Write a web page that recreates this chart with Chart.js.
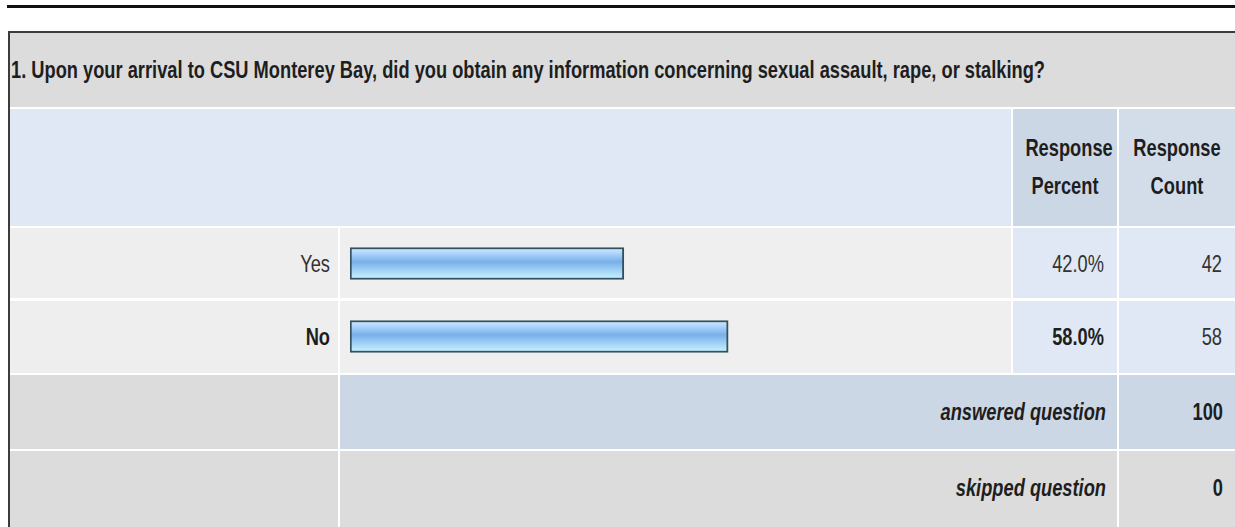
<!DOCTYPE html>
<html>
<head>
<meta charset="utf-8">
<script src="https://cdn.jsdelivr.net/npm/chart.js@4.4.0/dist/chart.umd.min.js"></script>
<style>
  html, body { margin: 0; padding: 0; background: #fff; }
  body { width: 1235px; height: 527px; position: relative; overflow: hidden;
         font-family: 'Liberation Sans', Arial, sans-serif; color: #1e1e1e; }
  .box { position: absolute; box-sizing: border-box; }
  .txt { position: absolute; font-size: 24px; white-space: nowrap; line-height: 1; }
  .r { text-align: right; }
  .c { text-align: center; }
  .b { font-weight: bold; }
  .i { font-style: italic; font-weight: bold; }
  .n { color: #333; }
</style>
</head>
<body>
<div class="box" style="left:7px;top:5px;width:1228px;height:3px;background:#111;"></div>
<div class="box" style="left:8px;top:31px;width:1227px;height:2px;background:#3c3c3c;"></div>
<div class="box" style="left:8px;top:31px;width:2px;height:496px;background:#3c3c3c;"></div>

<!-- title row -->
<div class="box" style="left:10px;top:33px;width:1225px;height:74px;background:#dcdcdc;"></div>
<!-- header row -->
<div class="box" style="left:10px;top:109px;width:1001px;height:117px;background:#dfe8f4;"></div>
<div class="box" style="left:1013px;top:109px;width:104px;height:117px;background:#ccd7e5;"></div>
<div class="box" style="left:1119px;top:109px;width:116px;height:117px;background:#d3dde9;"></div>
<!-- data rows -->
<div class="box" style="left:10px;top:228px;width:328px;height:70px;background:#eeeeee;"></div>
<div class="box" style="left:340px;top:228px;width:671px;height:70px;background:#efefef;"></div>
<div class="box" style="left:1013px;top:228px;width:104px;height:70px;background:#dfe8f4;"></div>
<div class="box" style="left:1119px;top:228px;width:116px;height:70px;background:#dfe8f4;"></div>
<div class="box" style="left:10px;top:301px;width:328px;height:72px;background:#eeeeee;"></div>
<div class="box" style="left:340px;top:301px;width:671px;height:72px;background:#efefef;"></div>
<div class="box" style="left:1013px;top:301px;width:104px;height:72px;background:#dfe8f4;"></div>
<div class="box" style="left:1119px;top:301px;width:116px;height:72px;background:#dfe8f4;"></div>
<!-- summary rows -->
<div class="box" style="left:10px;top:375px;width:328px;height:74px;background:#dcdcdc;"></div>
<div class="box" style="left:340px;top:375px;width:777px;height:74px;background:#ccd7e5;"></div>
<div class="box" style="left:1119px;top:375px;width:116px;height:74px;background:#ccd7e5;"></div>
<div class="box" style="left:10px;top:451px;width:328px;height:76px;background:#dcdcdc;"></div>
<div class="box" style="left:340px;top:451px;width:777px;height:76px;background:#dcdcdc;"></div>
<div class="box" style="left:1119px;top:451px;width:116px;height:76px;background:#dcdcdc;"></div>

<div class="box" style="left:341px;top:227px;width:671px;height:146px;">
  <canvas id="bars"></canvas>
</div>

<div id="texts"></div>

<script>
const questionTitle = '1. Upon your arrival to CSU Monterey Bay, did you obtain any information concerning sexual assault, rape, or stalking?';
const answerChoices = ['Yes', 'No'];
const responsePercent = [42.0, 58.0];
const responseCount = [42, 58];
const answeredQuestion = 100;
const skippedQuestion = 0;

// the survey font is a narrow one; squeeze Liberation Sans so the title fits its row
const measure = document.createElement('canvas').getContext('2d');
measure.font = "bold 24px 'Liberation Sans', Arial, sans-serif";
const squeeze = 1034 / measure.measureText(questionTitle).width;

const texts = document.getElementById('texts');
function addText(str, cls, style, origin) {
  const d = document.createElement('div');
  d.className = 'txt ' + cls;
  d.style.cssText = style;
  d.style.transform = `scaleX(${squeeze})`;
  d.style.transformOrigin = origin + ' center';
  d.textContent = str;
  texts.appendChild(d);
}

const maxIdx = responseCount.indexOf(Math.max(...responseCount));
const rowCenters = [264, 337];

addText(questionTitle, 'b', 'left:11px;top:58px;', 'left');
addText('Response', 'b c', 'left:1013px;width:104px;top:136px;', 'center');
addText('Percent', 'b c', 'left:1013px;width:104px;top:174px;', 'center');
addText('Response', 'b c', 'left:1119px;width:116px;top:136px;', 'center');
addText('Count', 'b c', 'left:1119px;width:116px;top:174px;', 'center');

answerChoices.forEach((choice, i) => {
  const weight = i === maxIdx ? ' b' : ' n';
  const top = rowCenters[i] - 12;
  addText(choice, 'r' + weight, `left:10px;width:320px;top:${top}px;`, 'right');
  addText(responsePercent[i].toFixed(1) + '%', 'r' + weight, `left:1013px;width:91px;top:${top}px;`, 'right');
  addText(String(responseCount[i]), 'r n', `left:1119px;width:103px;top:${top}px;`, 'right');
});

addText('answered question', 'i r', 'left:340px;width:766px;top:400px;', 'right');
addText(String(answeredQuestion), 'b r', 'left:1119px;width:104px;top:400px;', 'right');
addText('skipped question', 'i r', 'left:340px;width:766px;top:476px;', 'right');
addText(String(skippedQuestion), 'b r', 'left:1119px;width:104px;top:476px;', 'right');

// glossy blue bar fill, built per bar from the category scale
function barGradient(context) {
  const chart = context.chart;
  const yScale = chart.scales.y;
  const yc = yScale ? yScale.getPixelForValue(context.dataIndex) : NaN;
  if (!Number.isFinite(yc)) return '#8cc0ef';
  const g = chart.ctx.createLinearGradient(0, yc - 16, 0, yc + 16);
  g.addColorStop(0, '#d4ecff');
  g.addColorStop(0.2, '#a9d2fb');
  g.addColorStop(0.45, '#78b0e8');
  g.addColorStop(0.7, '#9fd0f6');
  g.addColorStop(1, '#c8f6ff');
  return g;
}

new Chart(document.getElementById('bars'), {
  type: 'bar',
  data: {
    labels: answerChoices,
    datasets: [{
      data: responsePercent,
      backgroundColor: barGradient,
      borderColor: '#34505e',
      borderWidth: 2,
      borderSkipped: false,
      barThickness: 32,
    }],
  },
  options: {
    indexAxis: 'y',
    responsive: true,
    maintainAspectRatio: false,
    animation: false,
    layout: { padding: { left: 9, right: 10, top: 0, bottom: 0 } },
    scales: {
      x: { display: false, min: 0, max: 100 },
      y: { display: false },
    },
    plugins: {
      legend: { display: false },
      tooltip: { enabled: false },
    },
  },
});
</script>
</body>
</html>
